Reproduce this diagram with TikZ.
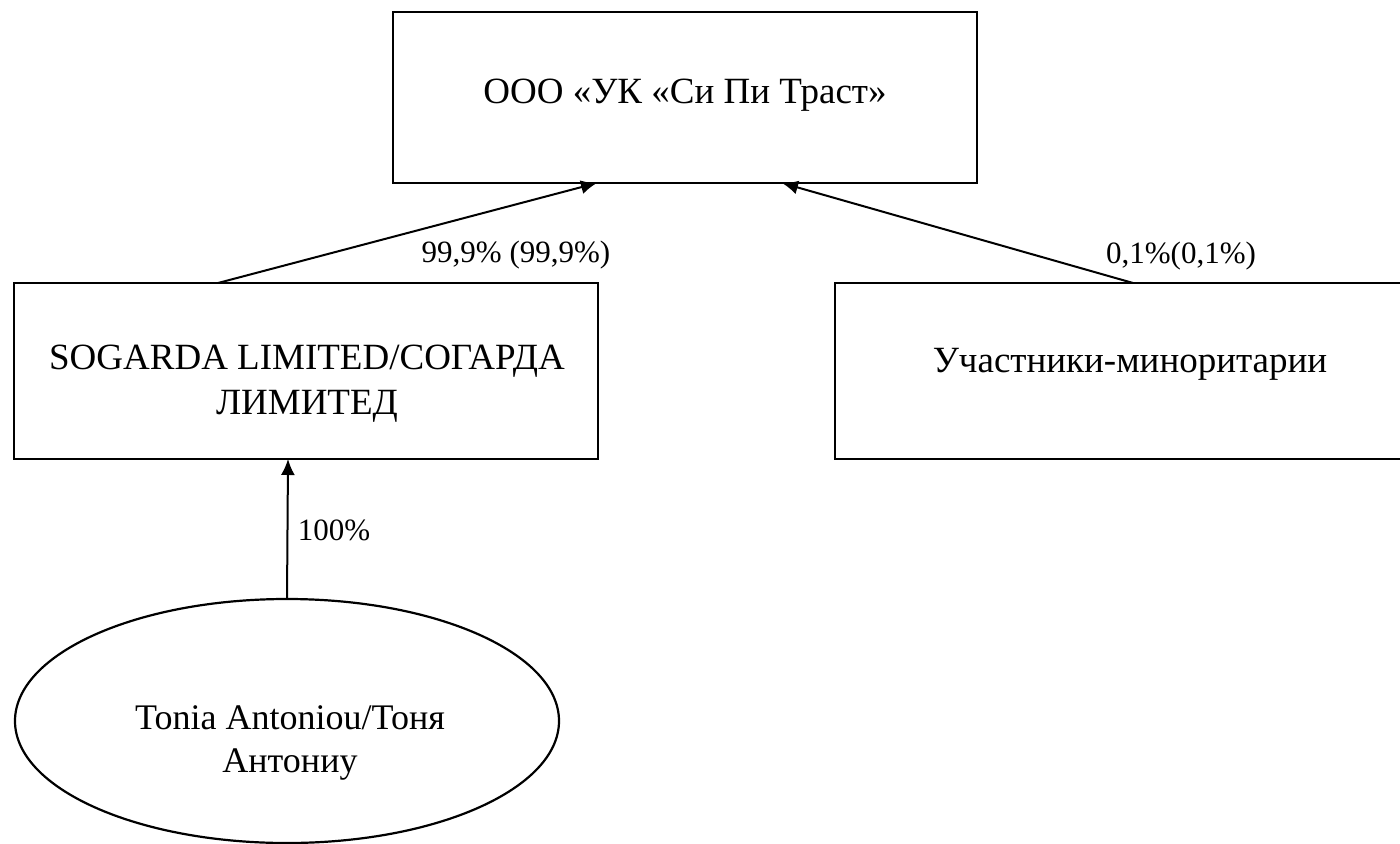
\documentclass[tikz,border=0pt]{standalone}
\usepackage{fontspec}
\setmainfont{Liberation Serif}
\usetikzlibrary{arrows.meta,shapes.geometric,calc}
\begin{document}
\begin{tikzpicture}[x=0.5pt,y=-0.5pt,
  boxnode/.style={draw, line width=1.1pt, rectangle, inner sep=0pt, outer sep=0pt},
  ovalnode/.style={draw, line width=1.1pt, ellipse, inner sep=0pt, outer sep=0pt,
    minimum width=272pt, minimum height=122pt},
  txt/.style={inner sep=0pt, anchor=base, font=\fontsize{18.5pt}{21pt}\selectfont},
  otxt/.style={inner sep=0pt, anchor=base, font=\fontsize{18pt}{21pt}\selectfont},
  link/.style={line width=1pt, -{Latex[length=8pt,width=7pt]}},
  pct/.style={inner sep=0pt, font=\fontsize{15.5pt}{19pt}\selectfont}]
\useasboundingbox (0,0) rectangle (1400,844);
\node[boxnode, minimum width=292pt, minimum height=85.5pt] (top) at (685,97.5) {};
\node[boxnode, minimum width=292pt, minimum height=88pt] (sog) at (306,371) {};
\node[boxnode, minimum width=292.5pt, minimum height=88pt] (minr) at (1127.5,371) {};
\node[ovalnode] (tonia) at (287,721) {};
\node[txt] (toptxt) at (685,104) {ООО «УК «Си Пи Траст»};
\node[txt] (sogtxta) at (307,369) {SOGARDA LIMITED/СОГАРДА};
\node[txt] (sogtxtb) at (307,414) {ЛИМИТЕД};
\node[txt] (minrtxt) at (1130,372) {Участники-миноритарии};
\node[otxt] (toniatxta) at (290,729) {Tonia Antoniou/Тоня};
\node[otxt] (toniatxtb) at (290,772) {Антониу};
\draw[link] ($(sog.north west)+(204,0)$) -- ($(top.south west)+(204,0)$);
\draw[link] ($(minr.north west)+(298,0)$) -- ($(top.south west)+(389,0)$);
\draw[link] (tonia.north) -- ($(sog.south west)+(274,0)$);
\node[pct] (l1) at (516,255) {99,9\% (99,9\%)};
\node[pct] (l2) at (1181,256) {0,1\%(0,1\%)};
\node[pct] (l3) at (334,530) {100\%};
\end{tikzpicture}
\end{document}
